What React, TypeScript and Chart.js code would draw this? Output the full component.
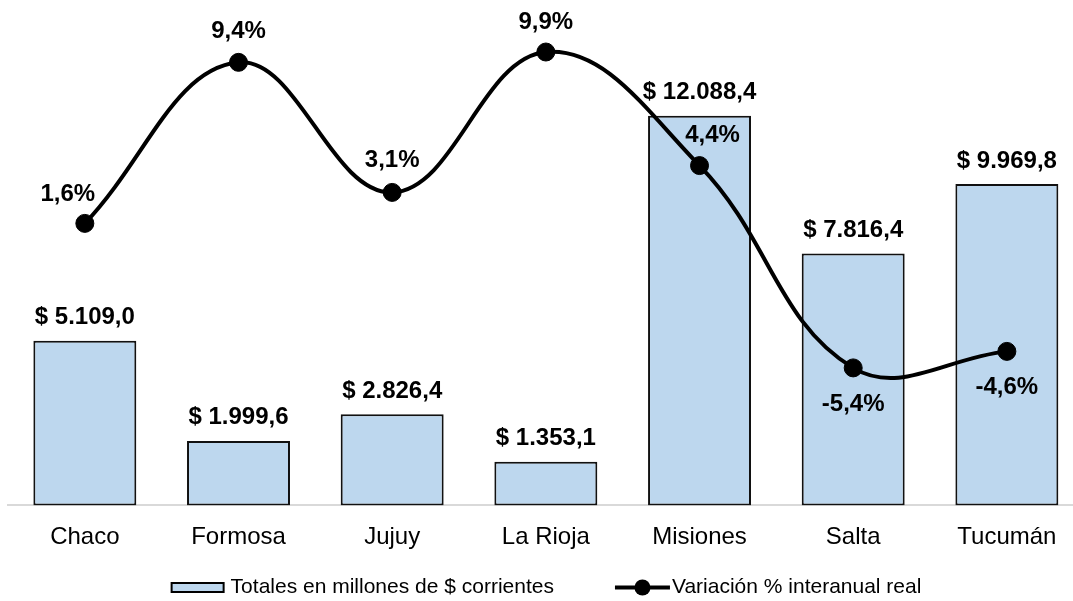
import React, { useEffect, useRef } from "react";
import { Chart, registerables } from "chart.js";

Chart.register(...registerables);

const categories = ["Chaco", "Formosa", "Jujuy", "La Rioja", "Misiones", "Salta", "Tucumán"];
const totals = [5109.0, 1999.6, 2826.4, 1353.1, 12088.4, 7816.4, 9969.8];
const variation = [1.6, 9.4, 3.1, 9.9, 4.4, -5.4, -4.6];
const barLegend = "Totales en millones de $ corrientes";
const lineLegend = "Variación % interanual real";

// label offsets (style), [dx, dy to baseline]
const lineLabelOffsets: [number, number][] = [
  [-17, -22],
  [0, -24],
  [0, -25],
  [0, -23],
  [13, -24],
  [0, 43],
  [0, 43],
];

const FONT = "'Liberation Sans', Arial, Helvetica, sans-serif";
const W = 1098;
const H = 601;
const LEGEND_CENTER_X = 546.5;
const LEGEND_CENTER_Y = 587.5;

function fmtMoney(v: number): string {
  const [i, d] = v.toFixed(1).split(".");
  const withDots = i.replace(/\B(?=(\d{3})+(?!\d))/g, ".");
  return "$ " + withDots + "," + d;
}
function fmtPct(v: number): string {
  return v.toFixed(1).replace(".", ",") + "%";
}

export default function App() {
  const ref = useRef<HTMLCanvasElement | null>(null);

  useEffect(() => {
    if (!ref.current) return;
    document.body.style.overflow = "hidden";

    const labelPlugin = {
      id: "valueLabels",
      afterDatasetsDraw(chart: any) {
        const ctx = chart.ctx;
        ctx.save();
        ctx.font = "bold 24px " + FONT;
        ctx.fillStyle = "#000";
        ctx.textAlign = "center";
        ctx.textBaseline = "alphabetic";
        const barMeta = chart.getDatasetMeta(1);
        barMeta.data.forEach((el: any, i: number) => {
          ctx.fillText(fmtMoney(totals[i]), el.x, el.y - 16.5);
        });
        const lineMeta = chart.getDatasetMeta(0);
        lineMeta.data.forEach((el: any, i: number) => {
          const [dx, dy] = lineLabelOffsets[i];
          ctx.fillText(fmtPct(variation[i]), el.x + dx, el.y + dy);
        });
        ctx.restore();
      },
    };

    const legendPlugin = {
      id: "customLegend",
      afterDraw(chart: any) {
        const ctx = chart.ctx;
        ctx.save();
        ctx.font = "21px " + FONT;
        const w1 = ctx.measureText(barLegend).width;
        const w2 = ctx.measureText(lineLegend).width;
        const boxW = 52;
        const symW = 55;
        const gapText1 = 7;
        const gapText2 = 2;
        const gapItems = 61;
        const total = boxW + gapText1 + w1 + gapItems + symW + gapText2 + w2;
        let x = LEGEND_CENTER_X - total / 2;
        const cy = LEGEND_CENTER_Y;
        // bar symbol
        ctx.fillStyle = "#BDD7EE";
        ctx.fillRect(x, cy - 4.5, boxW, 9);
        ctx.strokeStyle = "#000";
        ctx.lineWidth = 2;
        ctx.strokeRect(x, cy - 4.5, boxW, 9);
        x += boxW + gapText1;
        ctx.fillStyle = "#000";
        ctx.textAlign = "left";
        ctx.textBaseline = "middle";
        ctx.fillText(barLegend, x, cy);
        x += w1 + gapItems;
        // line symbol
        ctx.strokeStyle = "#000";
        ctx.lineWidth = 4;
        ctx.beginPath();
        ctx.moveTo(x, cy);
        ctx.lineTo(x + symW, cy);
        ctx.stroke();
        ctx.beginPath();
        ctx.arc(x + symW / 2, cy, 8, 0, Math.PI * 2);
        ctx.fill();
        x += symW + gapText2;
        ctx.fillText(lineLegend, x, cy);
        ctx.restore();
      },
    };

    const chart = new Chart(ref.current, {
      type: "bar",
      data: {
        labels: categories,
        datasets: [
          {
            type: "line",
            label: lineLegend,
            data: variation,
            yAxisID: "y1",
            borderColor: "#000",
            backgroundColor: "#000",
            borderWidth: 4,
            pointRadius: 9,
            pointBorderWidth: 1,
            pointBackgroundColor: "#000",
            pointBorderColor: "#000",
            tension: 0.4,
            order: 0,
            clip: false,
          } as any,
          {
            type: "bar",
            label: barLegend,
            data: totals,
            yAxisID: "y",
            backgroundColor: "#BDD7EE",
            borderColor: "#111",
            borderWidth: 2,
            borderSkipped: false,
            barPercentage: 0.67,
            categoryPercentage: 1,
            order: 1,
          } as any,
        ],
      },
      options: {
        responsive: false,
        animation: false,
        devicePixelRatio: 1,
        events: [],
        layout: { autoPadding: false, padding: { left: 8, right: 14.3, top: 0, bottom: 31.6 } },
        scales: {
          x: {
            type: "category",
            offset: true,
            grid: { display: false, drawTicks: false },
            border: { display: true, color: "#d9d9d9", width: 2 },
            ticks: { font: { size: 24, family: FONT }, color: "#000", padding: 17.6, maxRotation: 0, autoSkip: false },
          },
          y: { display: false, min: 0, max: 15680 },
          y1: { display: false, position: "right", min: -12.06, max: 12.42 },
        },
        plugins: {
          tooltip: { enabled: false },
          legend: { display: false },
        },
      } as any,
      plugins: [labelPlugin, legendPlugin],
    });

    return () => {
      chart.destroy();
    };
  }, []);

  return (
    <div style={{ position: "fixed", left: 0, top: 0, width: W, height: H }}>
      <canvas ref={ref} width={W} height={H} style={{ display: "block" }} />
    </div>
  );
}
